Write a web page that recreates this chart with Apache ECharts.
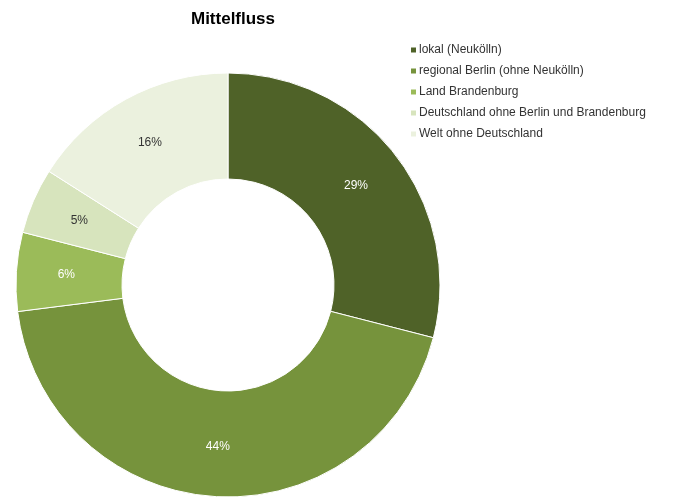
<!DOCTYPE html>
<html><head><meta charset="utf-8">
<script src="https://cdn.jsdelivr.net/npm/echarts@6/dist/echarts.min.js"></script>
<style>html,body{margin:0;padding:0;background:#fff}#c{width:681px;height:499px}</style>
</head><body><div id="c"></div>
<script>
var categories = ['lokal (Neukölln)', 'regional Berlin (ohne Neukölln)', 'Land Brandenburg', 'Deutschland ohne Berlin und Brandenburg', 'Welt ohne Deutschland'];
var values = [29, 44, 6, 5, 16];
var colors = ['#4F6228', '#76933C', '#9BBB59', '#D7E4BD', '#EBF1DE'];
var labelColors = ['#ffffff', '#ffffff', '#ffffff', '#333333', '#333333'];

var chart = echarts.init(document.getElementById('c'));
chart.setOption({
  animation: false,
  title: {
    text: 'Mittelfluss', left: 228, top: 6, textAlign: 'center',
    textStyle: {fontFamily: 'Liberation Sans, Arial', fontSize: 17, fontWeight: 'bold', color: '#000'}
  },
  legend: {
    orient: 'vertical', left: 404, top: 39, itemWidth: 7, itemHeight: 7, itemGap: 9,
    icon: 'rect',
    textStyle: {fontFamily: 'Liberation Sans, Arial', fontSize: 12, color: '#333', padding: [0,0,0,-3]},
    data: categories
  },
  series: [{
    type: 'pie',
    center: [228, 285],
    radius: [106, 212],
    startAngle: 90,
    clockwise: true,
    label: {
      position: 'inside',
      fontFamily: 'Liberation Sans, Arial', fontSize: 12,
      formatter: function (p) { return p.value + '%'; }
    },
    labelLine: {show: false},
    itemStyle: {borderColor: '#ffffff', borderWidth: 1},
    emphasis: {disabled: true},
    data: categories.map(function (c, i) {
      return {name: c, value: values[i], itemStyle: {color: colors[i]}, label: {color: labelColors[i]}};
    })
  }]
});
</script></body></html>
